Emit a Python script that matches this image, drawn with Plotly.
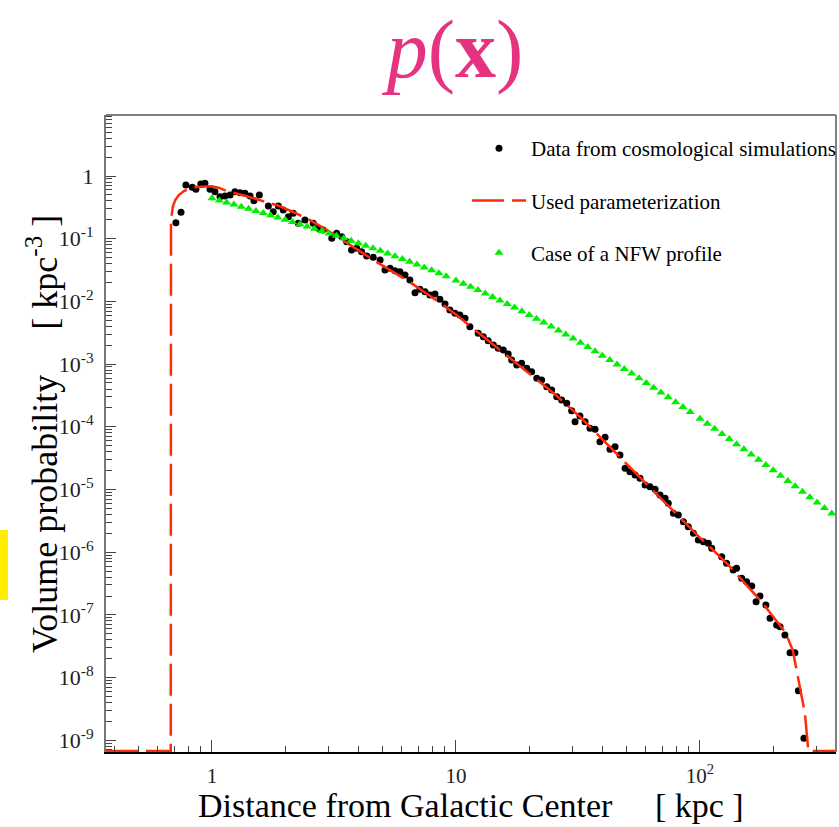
import numpy as np
import plotly.graph_objects as go

# ---------------- data (log10 values) ----------------
# Data from cosmological simulations: log10(r / kpc), log10(p / kpc^-3)
data_log_r = [-0.148, -0.127, -0.107, -0.081, -0.066, -0.046, -0.029, -0.008, 0.012, 0.033,
              0.053, 0.074, 0.094, 0.115, 0.135, 0.156, 0.172, 0.194, 0.231, 0.251,
              0.272, 0.292, 0.313, 0.333, 0.354, 0.381, 0.415, 0.436, 0.456, 0.491,
              0.511, 0.532, 0.552, 0.572, 0.593, 0.613, 0.634, 0.661, 0.689, 0.709,
              0.730, 0.750, 0.770, 0.791, 0.811, 0.832, 0.852, 0.873, 0.893, 0.914,
              0.934, 0.955, 0.975, 0.996, 1.016, 1.037, 1.057, 1.091, 1.112, 1.132,
              1.153, 1.173, 1.194, 1.214, 1.228, 1.249, 1.269, 1.290, 1.310, 1.331,
              1.351, 1.372, 1.392, 1.413, 1.433, 1.454, 1.474, 1.488, 1.508, 1.529,
              1.549, 1.570, 1.590, 1.611, 1.631, 1.652, 1.672, 1.693, 1.713, 1.734,
              1.754, 1.775, 1.795, 1.816, 1.836, 1.857, 1.870, 1.891, 1.911, 1.932,
              1.952, 1.973, 1.993, 2.014, 2.034, 2.048, 2.089, 2.109, 2.136, 2.150,
              2.171, 2.191, 2.212, 2.230, 2.246, 2.270, 2.287, 2.314, 2.328, 2.348,
              2.369, 2.389, 2.403, 2.426]
data_log_p = [-0.745, -0.579, -0.144, -0.180, -0.212, -0.128, -0.117, -0.212, -0.250, -0.330,
              -0.319, -0.303, -0.250, -0.266, -0.276, -0.319, -0.394, -0.303, -0.478, -0.569,
              -0.478, -0.542, -0.649, -0.595, -0.755, -0.702, -0.755, -0.834, -0.861, -0.994,
              -0.914, -0.968, -1.048, -1.180, -1.153, -1.207, -1.276, -1.297, -1.340, -1.499,
              -1.472, -1.510, -1.526, -1.579, -1.659, -1.861, -1.807, -1.845, -1.898, -1.882,
              -1.967, -2.041, -2.137, -2.190, -2.217, -2.270, -2.403, -2.510, -2.563, -2.627,
              -2.695, -2.748, -2.775, -2.839, -2.935, -3.014, -2.987, -3.067, -3.121, -3.227,
              -3.254, -3.360, -3.413, -3.520, -3.573, -3.625, -3.743, -3.919, -3.828, -3.919,
              -4.024, -4.040, -4.237, -4.168, -4.359, -4.317, -4.450, -4.662, -4.716, -4.769,
              -4.822, -4.928, -4.955, -4.997, -5.088, -5.141, -5.220, -5.380, -5.407, -5.513,
              -5.593, -5.699, -5.805, -5.832, -5.858, -5.938, -6.072, -6.177, -6.284, -6.257,
              -6.416, -6.472, -6.539, -6.790, -6.699, -6.842, -7.054, -7.161, -7.188, -7.321,
              -7.603, -7.603, -8.209, -8.968]

# Used parameterization (curve; values at the floor are clipped)
fit_log_r = [-0.4344, -0.169, -0.168, -0.160, -0.150, -0.135, -0.115, -0.090, -0.060, -0.030,
             0.000, 0.030, 0.060, 0.130, 0.200, 0.270, 0.330, 0.400, 0.470, 0.540,
             0.610, 0.670, 0.730, 0.810, 0.900, 1.000, 1.060, 1.130, 1.220, 1.300,
             1.380, 1.440, 1.510, 1.580, 1.650, 1.720, 1.790, 1.860, 1.930, 2.000,
             2.050, 2.120, 2.190, 2.250, 2.300, 2.350, 2.380, 2.410, 2.430, 2.444, 2.5574]
fit_log_p = [-9.17, -9.17, -0.70, -0.48, -0.38, -0.30, -0.24, -0.20, -0.175, -0.165,
             -0.165, -0.19, -0.24, -0.31, -0.39, -0.47, -0.57, -0.70, -0.86, -1.03,
             -1.21, -1.36, -1.50, -1.69, -1.93, -2.21, -2.40, -2.62, -2.90, -3.14,
             -3.40, -3.60, -3.85, -4.12, -4.40, -4.67, -4.95, -5.22, -5.50, -5.77,
             -5.95, -6.22, -6.52, -6.78, -7.03, -7.28, -7.56, -8.14, -8.57, -9.17, -9.17]

# Case of a NFW profile (triangles)
nfw_log_r = [0.00, 0.03, 0.06, 0.09, 0.12, 0.15, 0.18, 0.21, 0.24, 0.27,
             0.30, 0.33, 0.36, 0.39, 0.42, 0.45, 0.48, 0.51, 0.54, 0.57,
             0.60, 0.63, 0.66, 0.69, 0.72, 0.75, 0.78, 0.81, 0.84, 0.87,
             0.90, 0.93, 0.96, 1.00, 1.03, 1.06, 1.09, 1.12, 1.15, 1.18,
             1.21, 1.24, 1.27, 1.30, 1.33, 1.36, 1.39, 1.42, 1.45, 1.48,
             1.51, 1.54, 1.57, 1.60, 1.63, 1.66, 1.69, 1.72, 1.75, 1.78,
             1.81, 1.84, 1.87, 1.90, 1.93, 1.96, 2.00, 2.03, 2.06, 2.09,
             2.12, 2.15, 2.18, 2.21, 2.24, 2.27, 2.30, 2.33, 2.36, 2.39,
             2.42, 2.45, 2.48, 2.51, 2.54]
nfw_log_p = [-0.356, -0.389, -0.423, -0.456, -0.490, -0.523, -0.557, -0.592, -0.626, -0.661,
             -0.697, -0.732, -0.768, -0.805, -0.841, -0.879, -0.916, -0.954, -0.993, -1.032,
             -1.072, -1.112, -1.153, -1.194, -1.236, -1.279, -1.323, -1.367, -1.412, -1.458,
             -1.505, -1.552, -1.600, -1.666, -1.717, -1.768, -1.820, -1.874, -1.928, -1.984,
             -2.040, -2.097, -2.156, -2.215, -2.276, -2.337, -2.400, -2.463, -2.528, -2.593,
             -2.660, -2.728, -2.796, -2.866, -2.936, -3.007, -3.079, -3.152, -3.226, -3.301,
             -3.376, -3.453, -3.529, -3.607, -3.685, -3.764, -3.870, -3.951, -4.031, -4.113,
             -4.195, -4.277, -4.360, -4.443, -4.527, -4.611, -4.695, -4.780, -4.865, -4.950,
             -5.036, -5.122, -5.208, -5.294, -5.381]

y_tick_vals = [1, 1e-1, 1e-2, 1e-3, 1e-4, 1e-5, 1e-6, 1e-7, 1e-8, 1e-9]
y_tick_text = ["1", "10<sup>-1</sup>", "10<sup>-2</sup>", "10<sup>-3</sup>", "10<sup>-4</sup>",
               "10<sup>-5</sup>", "10<sup>-6</sup>", "10<sup>-7</sup>", "10<sup>-8</sup>", "10<sup>-9</sup>"]
x_tick_vals = [1, 10, 100]
x_tick_text = ["1", "10", "10<sup>2</sup>"]

legend_names = ["Data from cosmological simulations", "Used parameterization", "Case of a NFW profile"]

# ---------------- figure ----------------
W, H = 839, 827
ML, MR, MT, MB = 106, 3, 115, 75
PW, PH = W - ML - MR, H - MT - MB

def px_x(p):
    return (p - ML) / PW

def px_y(p):
    return (H - MB - p) / PH

serif = "Liberation Serif, Times New Roman, serif"

fig = go.Figure()

fig.add_trace(go.Scatter(
    x=10 ** np.array(data_log_r), y=10 ** np.array(data_log_p),
    mode="markers", name=legend_names[0], legendgroup="a",
    marker=dict(symbol="circle", size=7, color="black"),
))
fig.add_trace(go.Scatter(
    x=10 ** np.array(fit_log_r), y=10 ** np.array(fit_log_p),
    mode="lines", name=legend_names[1], legendgroup="b",
    line=dict(color="#ff2a0a", width=2.5, dash="32px,8px"),
))
fig.add_trace(go.Scatter(
    x=10 ** np.array(nfw_log_r), y=10 ** np.array(nfw_log_p),
    mode="markers", name=legend_names[2], legendgroup="c",
    marker=dict(symbol="triangle-up", size=8, color="#00ee00", line=dict(width=0)),
))

fig.update_layout(
    width=W, height=H,
    margin=dict(l=ML, r=MR, t=MT, b=MB, pad=0, autoexpand=False),
    paper_bgcolor="white", plot_bgcolor="white",
    font=dict(family=serif, color="black"),
    showlegend=True,
    legend=dict(
        x=px_x(467), y=px_y(128), xanchor="left", yanchor="top",
        bgcolor="rgba(0,0,0,0)", borderwidth=0,
        font=dict(family=serif, size=21, color="black"),
        itemwidth=54, tracegroupgap=22,
        traceorder="grouped",
    ),
    title=dict(
        text="<i>p</i>(<b>x</b>)",
        font=dict(family=serif, size=82, color="#e6337f"),
        x=455 / W, xref="container", xanchor="center",
        y=1 - 48 / H, yref="container", yanchor="middle",
    ),
)

fig.update_xaxes(
    type="log", range=[-0.4344, 2.5574],
    showgrid=False, zeroline=False,
    showline=True, linecolor="black", linewidth=2, mirror=False,
    ticks="inside", ticklen=12, tickwidth=1, tickcolor="#444",
    tickmode="array", tickvals=x_tick_vals, ticktext=x_tick_text,
    tickfont=dict(family=serif, size=21, color="#222"),
    ticklabelstandoff=4,
    minor=dict(ticks="inside", ticklen=6, tickwidth=1, tickcolor="#444",
               tickmode="linear", dtick="D1", showgrid=False),
)
fig.update_yaxes(
    type="log", range=[-9.187, 0.973],
    showgrid=False, zeroline=False,
    showline=True, linecolor="#777", linewidth=2, mirror=False,
    ticks="inside", ticklen=10, tickwidth=1, tickcolor="#444",
    tickmode="array", tickvals=y_tick_vals, ticktext=y_tick_text,
    tickfont=dict(family=serif, size=22, color="#222"),
    ticklabelstandoff=6,
    minor=dict(ticks="inside", ticklen=6, tickwidth=1, tickcolor="#444",
               tickmode="linear", dtick="D1", showgrid=False),
)

# frame top / right (grey)
fig.add_shape(type="line", xref="paper", yref="paper", x0=0, x1=1, y0=1, y1=1,
              line=dict(color="#808080", width=2))
fig.add_shape(type="line", xref="paper", yref="paper", x0=1, x1=1, y0=0, y1=1,
              line=dict(color="#808080", width=2))
# yellow marker at the left edge
fig.add_shape(type="rect", xref="paper", yref="paper",
              x0=px_x(0), x1=px_x(8), y0=px_y(600), y1=px_y(530),
              line=dict(width=0), fillcolor="#ffee00")

# axis titles
fig.add_annotation(text="Distance from Galactic Center\u00a0\u00a0\u00a0\u00a0 [ kpc ]",
                   xref="paper", yref="paper", x=0.5, y=px_y(805.5),
                   xanchor="center", yanchor="middle", showarrow=False,
                   font=dict(family=serif, size=34, color="black"))
fig.add_annotation(text="Volume probability\u00a0\u00a0\u00a0\u00a0 [ kpc<sup>-3</sup> ]",
                   xref="paper", yref="paper", x=px_x(42), y=px_y(434),
                   xanchor="center", yanchor="middle", textangle=-90, showarrow=False,
                   font=dict(family=serif, size=36, color="black"))

fig.write_html("out.html")
